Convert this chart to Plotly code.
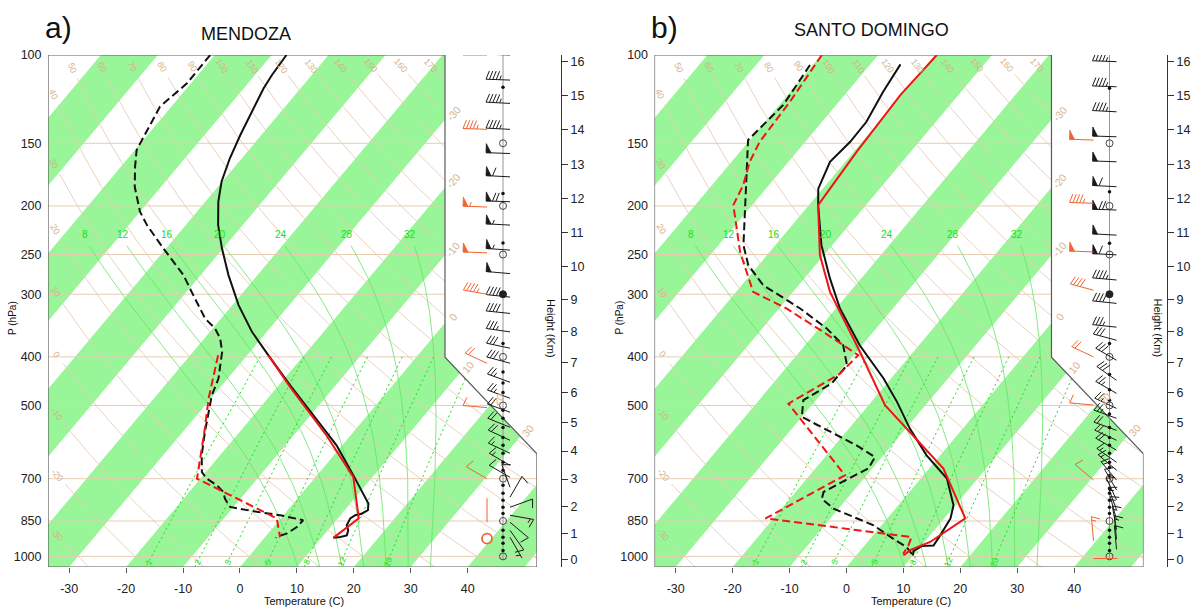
import numpy as np
import plotly.graph_objects as go

# ====================== chart values ======================
STATIONS = ["MENDOZA", "SANTO DOMINGO"]
LETTERS = ["a)", "b)"]

PRESSURE_TICKS = [100, 150, 200, 250, 300, 400, 500, 700, 850, 1000]
TEMP_TICKS = [-30, -20, -10, 0, 10, 20, 30, 40]
HEIGHT_TICKS_KM = list(range(0, 17))
ISOBARS = [150, 200, 250, 300, 400, 500, 700, 850, 1000]
THETA_DRY = list(range(-30, 171, 10))          # dry adiabats (C)
THETA_W = [8, 12, 16, 20, 24, 28, 32]          # moist adiabats (C)
MIX_RATIO = [1, 2, 3, 5, 8, 12, 20]            # g/kg
ISOTHERM_LABELS = [-30, -20, -10, 0, 10, 20, 30]
MANDATORY = [1000, 850, 700, 500, 400, 250, 200, 150]

# --- a) Mendoza: observed temperature / dew point (hPa, C)
A_OBS_T_P = [100, 109.6, 116.5, 127.8, 144.4, 160.7, 179.0, 196.3, 218.4, 243.0, 274.8, 315.4,
             356.6, 396.9, 455.7, 523.0, 600.4, 689.3, 710, 749.6, 784.7, 809, 822, 827.6, 840,
             867, 887, 908, 915, 918.5]
A_OBS_T = [-67.4, -67.0, -66.5, -65.3, -63.7, -62.1, -60.1, -57.7, -54.3, -50.2, -45.1, -38.9,
           -32.6, -26.3, -18.0, -9.5, -1.0, 6.4, 8.0, 10.8, 13.2, 14.1, 13.5, 12.6, 12.2,
           12.6, 13.6, 14.1, 13.2, 12.1]
A_OBS_TD_P = [100, 113.9, 126.8, 145.6, 154.7, 167.1, 183.2, 205.4, 218.4, 243, 274.8, 296.8,
              335.4, 351, 367.7, 390.8, 441.8, 477, 515.3, 564.6, 628.9, 679, 699.6, 721.5, 744,
              767.5, 797, 815, 827.6, 847, 874, 900, 915, 918.5]
A_OBS_TD = [-80.8, -80.7, -82.0, -80.5, -79.7, -77.5, -74.6, -70.0, -66.8, -60.5, -53.0, -49.1,
            -42.8, -39.6, -37.2, -34.9, -31.6, -30.3, -28.4, -26.1, -23.2, -20.7, -18.9, -16.1,
            -14.0, -12.7, -10.6, -5.2, -0.6, 4.2, 4.1, 3.3, 2.0, 2.0]
# --- a) Mendoza: model temperature / dew point
A_MOD_T_P = [396.9, 459, 574, 694, 840, 918.5]
A_MOD_T = [-26.3, -17.8, -4.2, 6.6, 13.7, 12.1]
A_MOD_TD_P = [396.9, 484, 556, 699.6, 840, 915]
A_MOD_TD = [-35.1, -30.4, -26.6, -20.6, -0.7, 2.6]

# --- b) Santo Domingo
B_OBS_T_P = [104.4, 118.4, 135.9, 149, 163.3, 184.7, 199.2, 239.5, 279, 320.3, 379.3, 441.8,
             491.8, 556, 628.9, 699.6, 791, 840, 908, 951, 954, 975.7, 996]
B_OBS_T = [-64.7, -63.7, -62.2, -62.1, -62.7, -60.8, -58.4, -51.9, -45.5, -39.3, -30.4, -21.3,
           -15.5, -9.3, -2.4, 4.6, 9.7, 11.1, 11.8, 12.1, 10.1, 9.4, 10.0]
B_OBS_TD_P = [104.7, 125.8, 147.8, 176.3, 205.4, 239.5, 262.5, 287.9, 320.3, 351, 379.3, 415.6,
              452, 488, 527, 600.4, 634, 668, 699.6, 744, 767.5, 803, 867, 922, 958, 996]
B_OBS_TD = [-80.5, -79.3, -80.3, -74.9, -70.3, -65.6, -61.8, -56.2, -46.3, -38.7, -33.3, -29.7,
            -29.7, -32.2, -30.0, -16.2, -11.2, -10.7, -12.7, -15.1, -14.4, -10.9, -1.4, 4.0,
            7.6, 10.0]
B_MOD_T_P = [100, 120.2, 156, 199.2, 250.7, 296.8, 390.8, 499.6, 668, 840, 936, 972, 996]
B_MOD_T = [-59.7, -60.2, -59.5, -58.4, -50.7, -43.5, -29.4, -17.1, 2.5, 13.7, 11.0, 8.7, 8.3]
B_MOD_TD_P = [100, 123.9, 149, 163.3, 181.8, 199.2, 247, 296.8, 320.3, 356.6, 396.9, 432.6,
              496, 689, 840, 915, 951, 988]
B_MOD_TD = [-79.9, -78.6, -78.0, -76.8, -74.5, -73.3, -65.2, -57.0, -48.7, -38.8, -29.2, -29.7,
            -34.3, -13.8, -21.4, 7.0, 7.7, 8.0]

# --- winds (hPa, kt, deg)
A_OBS_W_P = [100, 112.2, 124.9, 140.7, 157.2, 175.0, 196.2, 218.4, 245.0, 272.9, 304.0, 327.7,
             356.6, 384.4, 411.8, 449.4, 483.7, 515.8, 552.7, 586.7, 622.8, 658.2, 695.5, 728,
             762, 798, 828, 855, 887, 916]
A_OBS_W_S = [45, 45, 45, 45, 50, 60, 70, 55, 55, 50, 45, 40, 35, 30, 30, 25, 25, 20, 20, 20,
             15, 15, 10, 10, 10, 10, 15, 10, 10, 5]
A_OBS_W_D = [272, 272, 273, 273, 272, 273, 272, 273, 274, 275, 276, 276, 278, 282, 285, 290,
             290, 290, 292, 295, 295, 300, 300, 340, 30, 70, 100, 130, 145, 150]
A_MOD_W_P = [100, 140.7, 201, 248, 300, 412, 505, 700, 855, 922]
A_MOD_W_S = [45, 45, 55, 50, 45, 20, 10, 10, 3, 0]
A_MOD_W_D = [270, 272, 272, 272, 280, 295, 275, 300, 0, 0]

B_OBS_W_P = [103.1, 115.7, 129.8, 145.6, 163.3, 183.1, 203.8, 228.7, 250.4, 281, 312.9, 349,
             370.6, 406.2, 445.4, 473, 506.7, 530.4, 560.5, 586.7, 614, 649, 673, 704.5, 737.3,
             771.6, 807.5, 845.2, 884.5, 925.6, 968.7]
B_OBS_W_S = [45, 45, 45, 50, 50, 60, 70, 50, 60, 45, 40, 35, 30, 30, 30, 25, 25, 25, 20, 20,
             20, 15, 15, 15, 10, 10, 15, 15, 15, 15, 10]
B_OBS_W_D = [272, 272, 273, 272, 272, 273, 272, 273, 273, 275, 276, 276, 285, 300, 305, 300,
             295, 290, 290, 295, 300, 305, 310, 320, 330, 335, 340, 345, 350, 355, 355]
B_MOD_W_P = [147.8, 197.6, 247, 294.5, 400, 499, 704, 930, 1010]
B_MOD_W_S = [50, 45, 50, 40, 20, 10, 10, 15, 3]
B_MOD_W_D = [272, 272, 272, 285, 295, 275, 310, 355, 90]

A_DOT_P = [116, 189, 237, 376, 429, 451, 471, 511, 530, 553, 579, 600, 623, 649, 673, 721, 748,
           773, 798, 821, 887, 916, 942, 973]
B_DOT_P = [116.5, 187.4, 237.5, 376, 434, 465, 488, 520, 553, 579, 600, 623, 649, 665, 690,
           733, 748, 773, 798, 821, 887, 916, 942, 973]

# ====================== styles / geometry ======================
W, H = 1194, 609
FONT = "Liberation Sans, Arial, Helvetica, sans-serif"
GREEN_FILL = "rgb(152,245,152)"
TAN = "rgb(230,205,178)"
TAN_TXT = "rgb(214,178,140)"
MOIST = "rgb(100,228,100)"
MIXC = "rgb(40,215,40)"
GREEN_TXT = "rgb(20,225,20)"
RED = "rgb(240,20,20)"
BARB_RED = "rgb(240,100,50)"

P_TOP, P_BOT = 100.0, 1050.0
XMIN, XMAX = -19.06, 27.33
X_NOTCH = 18.6
PANEL_X0 = [48.0, 654.5]
HEIGHT_AX_X = [561.0, 1167.0]
Y_TOP_PX, Y_BOT_PX = 55.0, 567.0
PLOT_W, PLOT_H = 489.0, 512.0
COL_LINE, COL_OBS, COL_MOD = 455.0, 462.0, 439.0   # wind column offsets (px in panel)


def skewty(p):
    return 132.182 - 44.061 * np.log10(p)


def skewtx(t, ty):
    return 0.54 * t + 0.90692 * ty


TY_TOP, TY_BOT = skewty(P_TOP), skewty(P_BOT)
SX = PLOT_W / (XMAX - XMIN)
SY = PLOT_H / (TY_TOP - TY_BOT)
PX_PER_DEC = PLOT_H / (np.log10(P_BOT) - np.log10(P_TOP))


def right_edge(ty):
    ty = np.asarray(ty, float)
    return np.where(ty <= 9.0, XMAX,
                    np.where(ty <= 17.5, XMAX - (ty - 9.0) * (XMAX - X_NOTCH) / 8.5, X_NOTCH))


def to_px(X, ty):
    return (np.asarray(X) - XMIN) * SX, (TY_TOP - np.asarray(ty)) * SY


def inside(X, ty):
    return (X >= XMIN - 1e-9) & (X <= right_edge(ty) + 1e-9) & (ty >= TY_BOT - 1e-9) & (ty <= TY_TOP + 1e-9)


def p_std(h_km):
    h = h_km * 1000.0
    if h <= 11000:
        return 1013.25 * (1 - 2.25577e-5 * h) ** 5.25588
    return 226.32 * np.exp(-(h - 11000) / 6341.62)


def tmr(w, p):
    x = np.log10((w * p) / (622.0 + w))
    tk = 10 ** (0.0498646455 * x + 2.4082965) - 7.07475 + 38.9114 * ((10 ** (0.0915 * x) - 1.2035) ** 2)
    return tk - 273.15


def moist_profile(thw, p_hi, p_lo, n=800):
    Rd, cpd, Lv, eps = 287.04, 1005.7, 2.501e6, 0.622

    def es(Tk):
        Tc = Tk - 273.15
        return 6.112 * np.exp(17.67 * Tc / (Tc + 243.5))

    def f(p, Tk):
        e = es(Tk)
        rs = eps * e / (p - e)
        return (Rd * Tk + Lv * rs) / (p * (cpd + Lv * Lv * rs * eps / (Rd * Tk * Tk)))

    def integ(p0, p1, m):
        ps = np.linspace(p0, p1, m + 1)
        h = ps[1] - ps[0]
        T = thw + 273.15
        out = [T]
        for i in range(m):
            p = ps[i]
            k1 = f(p, T); k2 = f(p + h / 2, T + h / 2 * k1)
            k3 = f(p + h / 2, T + h / 2 * k2); k4 = f(p + h, T + h * k3)
            T = T + h / 6 * (k1 + 2 * k2 + 2 * k3 + k4)
            out.append(T)
        return ps, np.array(out)

    pu, tu = integ(1000.0, p_lo, n)
    pd, td = integ(1000.0, p_hi, 60)
    ps = np.concatenate([pd[::-1], pu[1:]])
    ts = np.concatenate([td[::-1], tu[1:]]) - 273.15
    return ps, ts


def clean(v):
    return [None if (a is None or (isinstance(a, float) and np.isnan(a))) else float(a) for a in v]


def clip_half(poly, a, b, c):
    out = []
    n = len(poly)
    for i in range(n):
        A, B = poly[i], poly[(i + 1) % n]
        fa = a * A[0] + b * A[1] + c
        fb = a * B[0] + b * B[1] + c
        if fa >= 0:
            out.append(A)
        if (fa >= 0) != (fb >= 0):
            t = fa / (fa - fb)
            out.append((A[0] + t * (B[0] - A[0]), A[1] + t * (B[1] - A[1])))
    return out


def barb_geometry(spd, dirn, L=24.0, F=9.0, gap=3.4):
    segs, tris = [], []
    d = np.radians(dirn)
    u = np.array([np.sin(d), np.cos(d)])
    nrm = np.array([u[1], -u[0]])
    segs.append([(0.0, 0.0), tuple(L * u)])
    n50 = int(spd // 50); r = spd - 50 * n50
    n10 = int(r // 10); n5 = int((r - 10 * n10) >= 5)
    a = np.radians(20)
    fd = nrm * np.cos(a) - u * np.sin(a)
    s = L
    for _ in range(n50):
        tip = s * u
        tris.append([tuple(tip), tuple(tip + F * nrm), tuple((s - 5) * u)])
        s -= 6.5
    for _ in range(n10):
        b = s * u
        segs.append([tuple(b), tuple(b + F * fd)])
        s -= gap
    if n5:
        if n50 + n10 == 0:
            s -= gap
        b = s * u
        segs.append([tuple(b), tuple(b + 0.5 * F * fd)])
    return segs, tris


OUTLINE = [(XMIN, TY_BOT), (XMAX, TY_BOT), (XMAX, 9.0), (X_NOTCH, 17.5), (X_NOTCH, TY_TOP), (XMIN, TY_TOP)]


def ty2p(ty):
    return 10 ** ((132.182 - np.asarray(ty)) / 44.061)


PANELS = [
    dict(obs_t=(A_OBS_T_P, A_OBS_T), obs_td=(A_OBS_TD_P, A_OBS_TD),
         mod_t=(A_MOD_T_P, A_MOD_T), mod_td=(A_MOD_TD_P, A_MOD_TD),
         obs_w=(A_OBS_W_P, A_OBS_W_S, A_OBS_W_D), mod_w=(A_MOD_W_P, A_MOD_W_S, A_MOD_W_D),
         dots=A_DOT_P),
    dict(obs_t=(B_OBS_T_P, B_OBS_T), obs_td=(B_OBS_TD_P, B_OBS_TD),
         mod_t=(B_MOD_T_P, B_MOD_T), mod_td=(B_MOD_TD_P, B_MOD_TD),
         obs_w=(B_OBS_W_P, B_OBS_W_S, B_OBS_W_D), mod_w=(B_MOD_W_P, B_MOD_W_S, B_MOD_W_D),
         dots=B_DOT_P),
]

fig = go.Figure()
ann = []


def line_trace(xs, ys, xr, yr, color, width, dash=None):
    return go.Scatter(x=clean(xs), y=clean(ys), xaxis=xr, yaxis=yr, mode="lines",
                      line=dict(color=color, width=width, dash=dash),
                      hoverinfo="skip", showlegend=False, connectgaps=False)


pp = np.geomspace(P_TOP, P_BOT, 900)
tyy = skewty(pp)

for k, pan in enumerate(PANELS):
    xr, yr = ("x", "y") if k == 0 else ("x2", "y2")

    # ---- green isotherm stripes
    fx, fy = [], []
    for t1 in range(-120, 60, 20):
        t2 = t1 + 10
        poly = clip_half(OUTLINE, 1.0, -0.90692, -0.54 * t1)
        if poly:
            poly = clip_half(poly, -1.0, 0.90692, 0.54 * t2)
        if len(poly) >= 3:
            for (X, ty) in poly + [poly[0]]:
                fx.append(X); fy.append(float(ty2p(ty)))
            fx.append(None); fy.append(None)
    fig.add_trace(go.Scatter(x=fx, y=fy, xaxis=xr, yaxis=yr, mode="lines", fill="toself",
                             fillcolor=GREEN_FILL, line=dict(width=0, color=GREEN_FILL),
                             hoverinfo="skip", showlegend=False))

    # ---- isobars
    ix, iy = [], []
    for p in ISOBARS:
        ty = skewty(p)
        ix += [XMIN, float(right_edge(ty)), None]
        iy += [p, p, None]
    fig.add_trace(line_trace(ix, iy, xr, yr, TAN, 1.0))

    # ---- dry adiabats
    dx, dy = [], []
    for th in THETA_DRY:
        T = (th + 273.15) * (pp / 1000.0) ** 0.286 - 273.15
        X = skewtx(T, tyy)
        ins = inside(X, tyy)
        if not ins.any():
            continue
        i0 = int(np.argmax(ins))
        sx_, sy_ = to_px(X, tyy)
        d = np.concatenate([[0], np.cumsum(np.hypot(np.diff(sx_), np.diff(sy_)))])
        s = d - d[i0]
        il = int(min(np.searchsorted(s, 13), len(pp) - 4))
        ist = int(np.searchsorted(s, 25))
        m = ins.copy(); m[:ist] = False
        dx += list(np.where(m, X, np.nan)) + [None]
        dy += list(pp) + [None]
        ang = np.degrees(np.arctan2(sy_[il + 3] - sy_[il - 3], sx_[il + 3] - sx_[il - 3]))
        ann.append(dict(x=float(X[il]), y=float(np.log10(pp[il])), xref=xr, yref=yr, text=str(th),
                        showarrow=False, textangle=float(ang),
                        font=dict(size=9, color=TAN_TXT, family=FONT)))
    fig.add_trace(line_trace(dx, dy, xr, yr, TAN, 0.9))

    # ---- moist adiabats
    mx, my = [], []
    for thw in THETA_W:
        ps, ts = moist_profile(thw, P_BOT, 240.0)
        X = skewtx(ts, skewty(ps))
        ins = inside(X, skewty(ps))
        mx += list(np.where(ins, X, np.nan)) + [None]
        my += list(ps) + [None]
        ann.append(dict(x=float(X[-1]), y=float(np.log10(ps[-1])), xref=xr, yref=yr,
                        text=str(thw), showarrow=False, xshift=-4, yshift=11,
                        font=dict(size=10, color=GREEN_TXT, family=FONT)))
    fig.add_trace(line_trace(mx, my, xr, yr, MOIST, 0.8))

    # ---- mixing ratio lines
    wx, wy = [], []
    pw = np.geomspace(400.0, P_BOT, 300)
    for w in MIX_RATIO:
        T = tmr(w, pw)
        X = skewtx(T, skewty(pw))
        ins = inside(X, skewty(pw))
        wx += list(np.where(ins, X, np.nan)) + [None]
        wy += list(pw) + [None]
        pl = 1025.0
        Xl = skewtx(tmr(w, pl), skewty(pl))
        a1 = to_px(skewtx(tmr(w, 990.0), skewty(990.0)), skewty(990.0))
        a2 = to_px(skewtx(tmr(w, 1045.0), skewty(1045.0)), skewty(1045.0))
        ang = np.degrees(np.arctan2(a1[1] - a2[1], a1[0] - a2[0]))
        ann.append(dict(x=float(Xl), y=float(np.log10(pl)), xref=xr, yref=yr, text=str(w),
                        showarrow=False, textangle=float(ang),
                        font=dict(size=8.5, color=GREEN_TXT, family=FONT)))
    fig.add_trace(line_trace(wx, wy, xr, yr, MIXC, 1.0, dash="2px,3px"))

    # ---- isotherm labels along the right boundary
    tyg = np.linspace(TY_BOT, TY_TOP, 5000)
    iso_ang = -np.degrees(np.arctan2(SY, 0.90692 * SX))
    for t in ISOTHERM_LABELS:
        fval = skewtx(t, tyg) - right_edge(tyg)
        idx = np.where(fval > 0)[0]
        if len(idx) == 0:
            continue
        j = idx[0]
        ann.append(dict(x=float(skewtx(t, tyg[j])), y=float(np.log10(ty2p(tyg[j]))), xref=xr, yref=yr,
                        text=str(t), showarrow=False, textangle=float(iso_ang), xshift=8, yshift=6,
                        font=dict(size=10.5, color=TAN_TXT, family=FONT)))

    # ---- outline
    ox = [c[0] for c in OUTLINE] + [OUTLINE[0][0]]
    oy = [float(ty2p(c[1])) for c in OUTLINE] + [float(ty2p(OUTLINE[0][1]))]
    fig.add_trace(line_trace(ox, oy, xr, yr, "#5a5a5a", 1.2))

    # ---- soundings
    for key, col, dash in [("obs_t", "#111111", None), ("obs_td", "#111111", "8px,4px"),
                           ("mod_t", RED, None), ("mod_td", RED, "8px,4px")]:
        P, T = pan[key]
        P = np.array(P, float); T = np.array(T, float)
        fig.add_trace(line_trace(skewtx(T, skewty(P)), P, xr, yr, col, 2.0, dash=dash))

    # ---- wind column
    Xline = XMIN + COL_LINE / SX
    fig.add_trace(line_trace([Xline, Xline], [P_TOP, 1013.0], xr, yr, "rgb(150,150,150)", 1.0))
    fig.add_trace(go.Scatter(x=[Xline] * len(pan["dots"]), y=pan["dots"], xaxis=xr, yaxis=yr,
                             mode="markers", marker=dict(size=3.5, color="#111"),
                             hoverinfo="skip", showlegend=False))
    fig.add_trace(go.Scatter(x=[Xline] * len(MANDATORY), y=MANDATORY, xaxis=xr, yaxis=yr,
                             mode="markers", marker=dict(size=7, color="rgba(0,0,0,0)",
                                                         line=dict(color="#444", width=1)),
                             hoverinfo="skip", showlegend=False))
    fig.add_trace(go.Scatter(x=[Xline], y=[300], xaxis=xr, yaxis=yr, mode="markers",
                             marker=dict(size=7, color="#222", line=dict(color="#222", width=1)),
                             hoverinfo="skip", showlegend=False))

    for wkey, orel, col in [("obs_w", COL_OBS, "#1a1a1a"), ("mod_w", COL_MOD, BARB_RED)]:
        P, S, D = pan[wkey]
        X0 = XMIN + orel / SX
        lx, ly, tx, tyl, cx, cy = [], [], [], [], [], []
        for p0, spd, dr in zip(P, S, D):
            if spd < 2.5:
                cx.append(X0); cy.append(p0)
                continue
            segs, tris = barb_geometry(spd, dr)
            for seg in segs:
                for (a, b) in seg:
                    lx.append(X0 + a / SX); ly.append(p0 * 10 ** (-b / PX_PER_DEC))
                lx.append(None); ly.append(None)
            for tri in tris:
                for (a, b) in tri + [tri[0]]:
                    tx.append(X0 + a / SX); tyl.append(p0 * 10 ** (-b / PX_PER_DEC))
                tx.append(None); tyl.append(None)
        fig.add_trace(line_trace(lx, ly, xr, yr, col, 1.0))
        if tx:
            fig.add_trace(go.Scatter(x=tx, y=tyl, xaxis=xr, yaxis=yr, mode="lines", fill="toself",
                                     fillcolor=col, line=dict(color=col, width=0.8),
                                     hoverinfo="skip", showlegend=False))
        if cx:
            fig.add_trace(go.Scatter(x=cx, y=cy, xaxis=xr, yaxis=yr, mode="markers",
                                     marker=dict(size=10, color="rgba(0,0,0,0)",
                                                 line=dict(color=col, width=1.8)),
                                     hoverinfo="skip", showlegend=False))

    # height axis carrier trace
    fig.add_trace(go.Scatter(x=[0], y=[500], xaxis=xr, yaxis=("y3" if k == 0 else "y4"),
                             mode="markers", marker=dict(size=1, opacity=0),
                             hoverinfo="skip", showlegend=False))

# ====================== layout ======================
layout = dict(width=W, height=H, autosize=False, margin=dict(l=0, r=0, t=0, b=0, pad=0),
              paper_bgcolor="white", plot_bgcolor="white", showlegend=False,
              font=dict(family=FONT, color="#222"))
yr_range = [np.log10(P_BOT), np.log10(P_TOP)]
ydom = [1 - Y_BOT_PX / H, 1 - Y_TOP_PX / H]
for k in range(2):
    x0 = PANEL_X0[k]
    xn, yn = ("xaxis", "yaxis") if k == 0 else ("xaxis2", "yaxis2")
    xa, ya = ("x", "y") if k == 0 else ("x2", "y2")
    layout[xn] = dict(domain=[x0 / W, (x0 + PLOT_W) / W], range=[XMIN, XMAX], anchor=ya,
                      tickvals=[float(skewtx(t, TY_BOT)) for t in TEMP_TICKS],
                      ticktext=[str(t) for t in TEMP_TICKS], ticks="outside", ticklen=5,
                      tickcolor="#555", tickwidth=1, showgrid=False, zeroline=False, showline=False,
                      tickfont=dict(size=12.5, color="#222"), ticklabelstandoff=5,
                      fixedrange=True, automargin=False)
    layout[yn] = dict(domain=ydom, type="log", range=yr_range, anchor=xa,
                      tickvals=PRESSURE_TICKS, ticktext=[str(p) for p in PRESSURE_TICKS],
                      ticks="outside", ticklen=3, tickcolor="rgba(0,0,0,0)", showgrid=False,
                      zeroline=False, showline=False, tickfont=dict(size=12.5, color="#222"),
                      fixedrange=True, automargin=False)
    hn = "yaxis3" if k == 0 else "yaxis4"
    layout[hn] = dict(overlaying=ya, anchor="free", position=HEIGHT_AX_X[k] / W, side="right",
                      type="log", range=yr_range,
                      tickvals=[float(p_std(h)) for h in HEIGHT_TICKS_KM],
                      ticktext=[str(h) for h in HEIGHT_TICKS_KM], ticks="outside", ticklen=6,
                      tickcolor="#333", showline=True, linecolor="#333", linewidth=1,
                      showgrid=False, zeroline=False, tickfont=dict(size=12.5, color="#222"),
                      fixedrange=True, automargin=False)

    def pa(px, py, text, size, angle=0, **kw):
        d = dict(x=px / W, y=1 - py / H, xref="paper", yref="paper", text=text, showarrow=False,
                 textangle=angle, font=dict(size=size, color="#111", family=FONT),
                 xanchor="center", yanchor="middle")
        d.update(kw)
        return d

    off = x0 - PANEL_X0[0]
    ann.append(pa(58 + off, 27, LETTERS[k], 30))
    ann.append(pa(246.5 if k == 0 else 871, 34.5 if k == 0 else 30.5, STATIONS[k], 18))
    ann.append(pa(304 + off, 601, "Temperature (C)", 11))
    ann.append(pa(12 + off, 318, "P (hPa)", 10, angle=-90))
    ann.append(pa(551 + off, 328, "Height (Km)", 11, angle=90))

layout["annotations"] = ann
fig.update_layout(**layout)
fig.write_html("out.html", config={"displayModeBar": False, "staticPlot": True},
               post_script="document.body.style.margin='0';document.body.style.padding='0';"
                           "document.body.style.overflow='hidden';")
